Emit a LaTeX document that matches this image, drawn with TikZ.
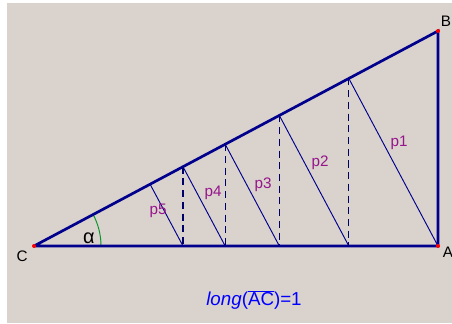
\documentclass[tikz,border=0pt]{standalone}
\usepackage{fontspec}
\setmainfont{Liberation Sans}
\usetikzlibrary{calc}
\definecolor{fondo}{RGB}{217,210,205}
\definecolor{azul}{RGB}{0,0,140}
\definecolor{morado}{RGB}{150,20,140}
\definecolor{verde}{RGB}{0,150,40}
\begin{document}
\begin{tikzpicture}[x=0.03cm,y=-0.03cm]

\useasboundingbox (0,0) rectangle (452,323);
\fill[white] (0,0) rectangle (452,323);
\fill[fondo] (7,3) rectangle (452,323);

\coordinate (C) at (34,246);
\coordinate (A) at (438,246);
\coordinate (B) at (438,31);

% pies de las perpendiculares
\coordinate (P1) at ($(C)!(A)!(B)$);
\coordinate (Q1) at ($(C)!(P1)!(A)$);
\coordinate (P2) at ($(C)!(Q1)!(B)$);
\coordinate (Q2) at ($(C)!(P2)!(A)$);
\coordinate (P3) at ($(C)!(Q2)!(B)$);
\coordinate (Q3) at ($(C)!(P3)!(A)$);
\coordinate (P4) at ($(C)!(Q3)!(B)$);
\coordinate (Q4) at ($(C)!(P4)!(A)$);
\coordinate (P5) at ($(C)!(Q4)!(B)$);

\draw[line width=0.8pt, azul] (A) to (P1);
\draw[line width=0.8pt, azul] (Q1) to (P2);
\draw[line width=0.8pt, azul] (Q2) to (P3);
\draw[line width=0.8pt, azul] (Q3) to (P4);
\draw[line width=0.8pt, azul] (Q4) to (P5);

\draw[line width=0.9pt, azul!75!black, dash pattern=on 6pt off 4pt] (P1) to (Q1);
\draw[line width=0.9pt, azul!75!black, dash pattern=on 6pt off 4pt] (P2) to (Q2);
\draw[line width=0.9pt, azul!75!black, dash pattern=on 6pt off 4pt] (P3) to (Q3);
\draw[line width=0.9pt, azul!75!black, dash pattern=on 6pt off 4pt] (P4) to (Q4);

\draw[line width=0.8pt, verde] ($(C)+(67,0)$) arc[start angle=0, end angle=-28.03, radius=67];

\draw[line width=2.3pt, azul] (C) to (A) to (B) to (C);

\fill[red] (C) circle (2);
\fill[red] (A) circle (2);
\fill[red] (B) circle (2);

\node[font=\fontsize{13}{13}\selectfont] (lC) at (22,256){C};
\node[font=\fontsize{13}{13}\selectfont] (lB) at (446,21){B};
\node[font=\fontsize{13}{13}\selectfont] (lA) at (448,252){A};
\node[font=\fontsize{17}{17}\selectfont] (alfa) at (89,238){α};

\node[morado, font=\fontsize{13}{13}\selectfont] (p1) at (399,143){p1};
\node[morado, font=\fontsize{13}{13}\selectfont] (p2) at (320,163){p2};
\node[morado, font=\fontsize{13}{13}\selectfont] (p3) at (263,185){p3};
\node[morado, font=\fontsize{13}{13}\selectfont] (p4) at (213,193){p4};
\node[morado, font=\fontsize{13}{13}\selectfont] (p5) at (158,211){p5};

\node[blue, font=\fontsize{16}{16}\selectfont] (long) at (254,300){\textit{long}($\overline{\mbox{AC}}$)=1};

\end{tikzpicture}
\end{document}
